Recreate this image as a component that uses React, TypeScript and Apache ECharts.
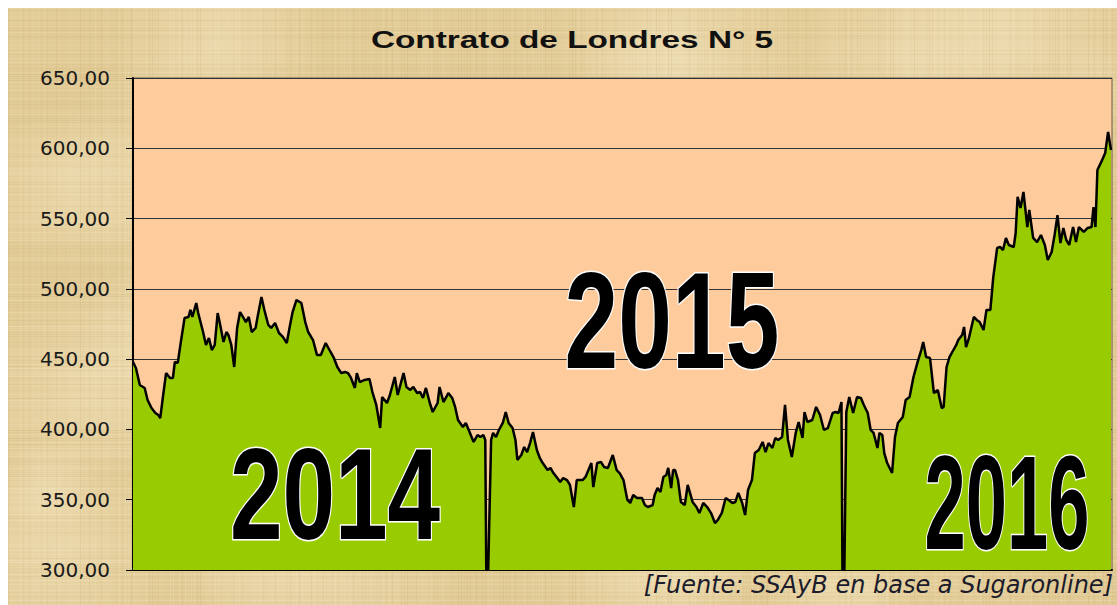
import React, { useEffect, useRef } from "react";
import * as echarts from "echarts";

const START = Date.UTC(2014, 0, 1);
const DAY_MS = 86400000;
const LAST_DAY = 1006;

const titleText = "Contrato de Londres N° 5";
const sourceText = "[Fuente: SSAyB en base a Sugaronline]";
const yearLabels = ["2014", "2015", "2016"];

// days since 2014-01-01
const dayOffsets = [
  0, 3, 7, 12, 15, 19, 23, 26, 28, 31, 34, 38, 41, 43, 46, 49, 53, 57, 59, 61,
  65, 67, 72, 75, 78, 81, 84, 87, 89, 93, 96, 98, 101, 104, 107, 110, 113, 116, 119, 122,
  126, 128, 132, 135, 139, 142, 146, 150, 154, 158, 161, 164, 168, 173, 177, 180, 185, 189, 193, 198,
  203, 206, 210, 214, 218, 221, 224, 228, 230, 233, 238, 243, 246, 250, 254, 256,
  261, 264, 269, 272, 278, 281, 285, 288, 292, 295, 298, 301, 305, 308, 313, 315, 319, 322, 324, 328,
  331, 334, 339, 342, 345, 350, 354, 357, 360, 362, 363, 365,
  368, 370, 373, 376, 380, 383, 386, 390, 393, 395, 399, 402, 405, 408, 411, 415, 418, 421, 426, 429,
  432, 436, 439, 442, 446, 449, 453, 456, 462, 465, 468, 471, 473, 477, 481, 484, 488, 493, 497, 500,
  504, 508,
  511, 514, 518, 523, 526, 529, 534, 536, 539, 542, 545, 548, 550, 553, 555, 557, 560, 563, 567, 570,
  575, 579, 582, 586, 590, 594, 598, 601, 605, 609, 612, 616, 619, 622, 626, 629, 632, 636, 639, 643,
  647, 650, 653, 657, 660, 663, 667, 670, 673, 677, 681, 684, 688, 690, 693, 698, 702, 706, 710, 714,
  719, 722, 725, 728, 729, 731,
  733, 736, 740, 744, 748, 751, 755, 758, 761, 765, 767, 770, 772, 775, 780, 783, 786, 791, 794, 798,
  802, 806, 810, 812, 815, 819, 823, 827, 831, 833, 836, 839, 843, 846, 848, 852, 854, 856, 859, 864,
  867, 870, 874, 877, 881, 884, 888, 891, 894, 897, 900, 905, 907, 909, 912, 915, 919, 921, 925, 929,
  933, 937, 940, 944, 947, 950, 953, 956, 959, 962, 966, 969, 972, 977, 981, 985, 987, 989, 991, 995,
  999, 1002, 1005,
];

const prices = [
  448, 443.7, 431.6, 429.5, 420.9, 415.2, 411.7, 410.3, 408.1, 424.5, 440.1, 436.6, 436.6, 448, 447.3, 461.5, 479.3, 480, 485, 480,
  489.9, 482.8, 469.3, 460.1, 465, 456.5, 460.1, 482.8, 476.4, 462.2, 469.3, 467.2, 460.1, 444.4, 472.2, 483.5, 480, 476.4, 480, 469.3,
  472.2, 480, 494.2, 485, 474.3, 472.2, 475.7, 468.6, 465.8, 461.5, 472.9, 483.5, 492.1, 489.9, 476.4, 469.3, 463.6, 453, 453, 461.5,
  455.1, 451.5, 444.4, 440.1, 440.9, 440.1, 436.6, 429.5, 440.1, 433.7, 435.2, 435.9, 426.6, 417.4, 401, 423.1,
  418.8, 424.5, 437.3, 424.5, 440.1, 430.2, 428.1, 430.2, 425.9, 426.6, 422.4, 429.5, 418.8, 412.4, 418.8, 430.2, 419.5, 423.1, 425.9, 422.4,
  416, 406.7, 401.7, 404.6, 399.6, 391.1, 396, 394.6, 396, 392.5, 300, 300,
  392.5, 397.5, 394.6, 399.6, 404.6, 412.4, 404.6, 401, 392.5, 378.3, 381.8, 387.5, 383.9, 390.3, 398.2, 385.4, 379.7, 376.1, 371.1, 372.6,
  369, 365.4, 362.6, 365.4, 364, 360.5, 344.8, 364, 364, 366.2, 371.1, 376.1, 359, 376.1, 376.8, 373.3, 372.6, 381.8, 371.1, 369,
  364, 349.8,
  347.7, 353.4, 351.2, 351.2, 346.2, 344.8, 346.2, 353.4, 358.3, 355.5, 366.2, 367.6, 372.6, 358.3, 371.1, 371.1, 364, 348.4, 346.2, 360.5,
  348.4, 344.8, 340.5, 347.7, 344.8, 340.5, 333.4, 335.6, 340.5, 351.2, 349.8, 347.7, 348.4, 354.8, 347.7, 339.1, 356.9, 364, 383.2, 385.4,
  391.1, 383.9, 390.3, 386.8, 393.9, 392.5, 394.6, 417.4, 392.5, 380.4, 397.5, 405.3, 393.9, 412.4, 405.3, 406.7, 416, 410.3, 399.6, 401,
  411.7, 412.4, 411.7, 419.5, 300, 300,
  412.4, 423.1, 411.7, 423.1, 422.4, 417.4, 411.7, 399.6, 397.5, 386.8, 397.5, 396, 383.2, 376.1, 369, 394.6, 404.6, 408.8, 420.9, 423.1,
  437.3, 447.3, 456.5, 462.2, 451.5, 450.8, 425.9, 428.1, 415.2, 416, 444.4, 451.5, 456.5, 460.1, 463.6, 467.2, 472.9, 458.6, 465, 480,
  477.9, 476.4, 470.7, 485, 485, 508.4, 529.1, 529.8, 527.6, 536.2, 531.2, 529.8, 539.7, 565.4, 557.5, 568.9, 544, 556.1, 536.2, 533.3,
  538.3, 531.2, 520.5, 526.2, 538.3, 552.5, 532.6, 543.3, 534.8, 531.2, 544, 533.3, 544, 540.5, 543.3, 544, 558.2, 544, 584.6, 590.3,
  596.7, 611.6, 598.8,
];

const Y_MIN = 300;
const Y_MAX = 650;
const Y_STEP = 50;

// deterministic hash for a decorative papyrus texture
function hash(n: number): number {
  const s = Math.sin(n * 127.1 + 311.7) * 43758.5453;
  return s - Math.floor(s);
}

function makePapyrus(w: number, h: number): string | null {
  const c = document.createElement("canvas");
  c.width = w;
  c.height = h;
  const ctx = c.getContext("2d");
  if (!ctx) return null;
  ctx.fillStyle = "#E2CB96";
  ctx.fillRect(0, 0, w, h);
  // soft light blotches
  for (let i = 0; i < 40; i++) {
    const cx = hash(i * 3.1) * w;
    const cy = hash(i * 7.7 + 1) * h;
    const r = 40 + hash(i * 5.3 + 2) * 120;
    const g = ctx.createRadialGradient(cx, cy, 0, cx, cy, r);
    g.addColorStop(0, "rgba(245,232,196,0.45)");
    g.addColorStop(1, "rgba(245,232,196,0)");
    ctx.fillStyle = g;
    ctx.fillRect(cx - r, cy - r, r * 2, r * 2);
  }
  // horizontal fibres
  for (let y = 0; y < h; y += 2) {
    const a = hash(y * 0.913);
    ctx.fillStyle = a > 0.5 ? `rgba(246,234,200,${(a - 0.5) * 0.6})` : `rgba(190,160,100,${(0.5 - a) * 0.35})`;
    ctx.fillRect(0, y, w, 1);
  }
  // vertical fibres
  for (let x = 0; x < w; x += 3) {
    const a = hash(x * 1.37 + 50);
    ctx.fillStyle = a > 0.5 ? `rgba(246,234,200,${(a - 0.5) * 0.45})` : `rgba(185,155,95,${(0.5 - a) * 0.3})`;
    ctx.fillRect(x, 0, 1, h);
  }
  return c.toDataURL();
}

export default function App() {
  const ref = useRef<HTMLDivElement>(null);

  useEffect(() => {
    document.documentElement.style.overflow = "hidden";
    const el = ref.current as HTMLDivElement;
    const chart = echarts.init(el, null, { renderer: "svg" });
    const data = dayOffsets.map((d, i) => [START + d * DAY_MS, prices[i]]);
    const tex = makePapyrus(1109, 597);

    const yearText = (text: string, x: number, y: number, size: number, sx: number) => ({
      type: "text",
      x,
      y,
      scaleX: sx,
      z: 100,
      style: {
        text,
        font: `bold ${size}px "Liberation Sans", Arial, sans-serif`,
        fill: "#000",
        stroke: "#fff",
        lineWidth: 3,
        textAlign: "center",
        textVerticalAlign: "middle",
        align: "center",
        verticalAlign: "middle",
      },
    });

    const graphics: any[] = [];
    if (tex) {
      graphics.push({
        type: "image",
        x: 0,
        y: 0,
        z: -10,
        silent: true,
        style: { image: tex, x: 0, y: 0, width: 1109, height: 597 },
      });
    }
    graphics.push(
      {
        type: "text",
        x: 564,
        y: 32,
        scaleX: 1.45,
        style: {
          text: titleText,
          font: 'bold 23px "Liberation Sans", Arial, sans-serif',
          fill: "#111",
          textAlign: "center",
          textVerticalAlign: "middle",
          align: "center",
          verticalAlign: "middle",
        },
      },
      yearText(yearLabels[0], 327, 486, 130, 0.727),
      yearText(yearLabels[1], 664, 313, 137, 0.705),
      yearText(yearLabels[2], 999, 495, 133, 0.557),
      {
        type: "text",
        x: 1105,
        y: 577,
        z: 100,
        style: {
          text: sourceText,
          font: 'italic 24px "DejaVu Sans", sans-serif',
          fill: "#1b1b2b",
          textAlign: "right",
          textVerticalAlign: "middle",
          align: "right",
          verticalAlign: "middle",
        },
      }
    );

    chart.setOption({
      animation: false,
      backgroundColor: "#E2CB96",
      grid: {
        left: 125,
        top: 70,
        right: 5,
        bottom: 35,
        show: true,
        backgroundColor: "#FDCB9C",
        borderColor: "#6b5a48",
        borderWidth: 1,
      },
      xAxis: {
        type: "time",
        min: START,
        max: START + LAST_DAY * DAY_MS,
        axisLine: { show: true, onZero: false, lineStyle: { color: "#000", width: 2 } },
        axisTick: { show: false },
        axisLabel: { show: false },
        splitLine: { show: false },
      },
      yAxis: {
        type: "value",
        min: Y_MIN,
        max: Y_MAX,
        interval: Y_STEP,
        axisLine: { show: true, lineStyle: { color: "#000", width: 2 } },
        axisTick: { show: true, length: 7, lineStyle: { color: "#000", width: 1 } },
        axisLabel: {
          margin: 23,
          color: "#1a1a1a",
          fontSize: 20,
          fontFamily: '"DejaVu Sans", sans-serif',
          formatter: (v: number) => v.toFixed(2).replace(".", ","),
        },
        splitLine: { show: true, lineStyle: { color: "#333", width: 1 } },
      },
      series: [
        {
          type: "line",
          data,
          symbol: "none",
          showSymbol: false,
          clip: true,
          lineStyle: { color: "#000", width: 2.5 },
          areaStyle: { color: "#99CC00", opacity: 1 },
        },
      ],
      graphic: graphics,
    });

    return () => {
      chart.dispose();
    };
  }, []);

  return (
    <div
      ref={ref}
      style={{ position: "absolute", left: 8, top: 8, width: 1109, height: 597 }}
    />
  );
}
